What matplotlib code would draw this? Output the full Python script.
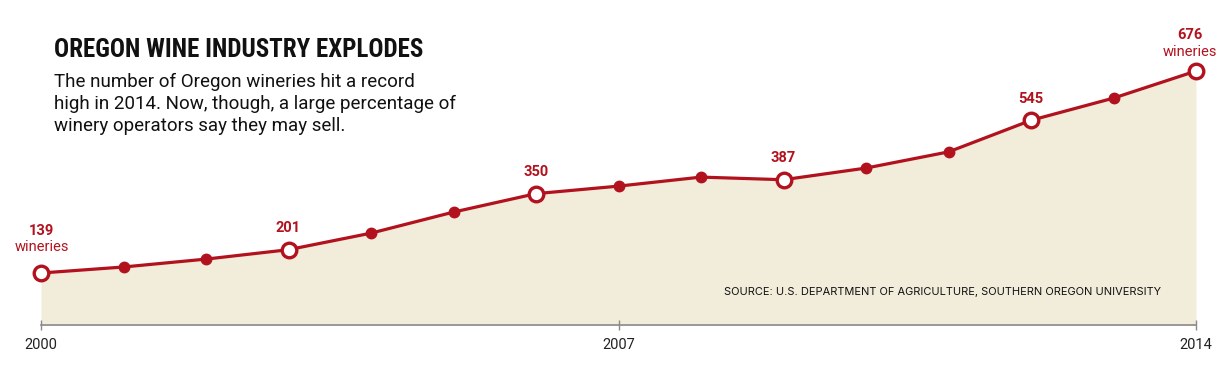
import matplotlib
matplotlib.use("Agg")
import matplotlib.pyplot as plt
from matplotlib import font_manager as fm

years = list(range(2000, 2015))
wineries = [139, 155, 176, 201, 245, 301, 350, 370, 394, 387, 418, 461, 545, 604, 676]
highlight_years = [2000, 2003, 2006, 2009, 2012, 2014]
tick_years = [2000, 2007, 2014]
title = "OREGON WINE INDUSTRY EXPLODES"
subtitle = ["The number of Oregon wineries hit a record",
            "high in 2014. Now, though, a large percentage of",
            "winery operators say they may sell."]
source = "SOURCE: U.S. DEPARTMENT OF AGRICULTURE, SOUTHERN OREGON UNIVERSITY"

RED = "#B2121E"
FILL = "#F2ECDB"

names = {f.name for f in fm.fontManager.ttflist}
cond = "DejaVu Sans"
for cand in ["Roboto Condensed", "DejaVu Sans Condensed", "Liberation Sans Narrow", "Open Sans Condensed"]:
    if cand in names:
        cond = cand
        break
body = "Roboto" if "Roboto" in names else "DejaVu Sans"
src_font = "Inter" if "Inter" in names else body

W, H = 1227, 371
fig = plt.figure(figsize=(W / 100, H / 100), dpi=100)
ax = fig.add_axes([41 / W, (H - 325.3) / H, (1196 - 41) / W, (325.3 - 62) / H])
ax.set_xlim(2000, 2014)
ax.set_ylim(0, 700)

ax.fill_between(years, wineries, 0, color=FILL, lw=0, zorder=1)
ax.plot(years, wineries, color=RED, lw=2.3, zorder=3, clip_on=False)
small = [(y, v) for y, v in zip(years, wineries) if y not in highlight_years]
ax.plot([s[0] for s in small], [s[1] for s in small], 'o', color=RED, ms=7.5, zorder=4, clip_on=False)
hl = [(y, v) for y, v in zip(years, wineries) if y in highlight_years]
ax.plot([h[0] for h in hl], [h[1] for h in hl], 'o', mfc="white", mec=RED, mew=2.4, ms=10.5,
        zorder=5, clip_on=False)

for y, v in hl:
    if y == 2000:
        offs = [(0.5, 30.5), (0.5, 19)]
    elif y == 2014:
        offs = [(-4.5, 26), (-4.5, 14)]
    else:
        offs = None
    if offs:
        ax.annotate(str(v), (y, v), xytext=offs[0], textcoords="offset points", ha="center",
                    va="center", color=RED, fontsize=10.5, fontweight="bold", family=body)
        ax.annotate("wineries", (y, v), xytext=offs[1], textcoords="offset points", ha="center",
                    va="center", color=RED, fontsize=10.5, family=body)
    else:
        ax.annotate(str(v), (y, v), xytext=(0, 15.5), textcoords="offset points", ha="center",
                    va="center", color=RED, fontsize=10.5, fontweight="bold", family=body)

for s in ["top", "right", "left"]:
    ax.spines[s].set_visible(False)
ax.spines["bottom"].set_color("#8a8a8a")
ax.spines["bottom"].set_linewidth(1.2)
ax.set_yticks([])
ax.set_xticks(tick_years)
ax.set_xticklabels([str(t) for t in tick_years], fontsize=10.5, family=body, color="#222222")
ax.tick_params(axis="x", length=7, width=1, color="#8a8a8a", pad=5.5, direction="inout")

t = fig.text(54 / W, 1 - 50 / H, title, fontsize=19, fontweight="bold", family=cond, va="center",
             color="#111111")
for i, line in enumerate(subtitle):
    fig.text(54 / W, 1 - (82 + 22 * i) / H, line, fontsize=13.5, family=body, va="center",
             color="#111111")
s = fig.text(1161 / W, 1 - 292 / H, source, fontsize=7.2, family=src_font, va="center", ha="right",
             color="#111111")

# fit text widths to the reference layout
r = fig.canvas.get_renderer()
tw = t.get_window_extent(r).width
t.set_fontsize(19 * 369 / tw)
sw = s.get_window_extent(r).width
s.set_fontsize(7.2 * 434 / sw)

fig.savefig("out.png", dpi=100)
